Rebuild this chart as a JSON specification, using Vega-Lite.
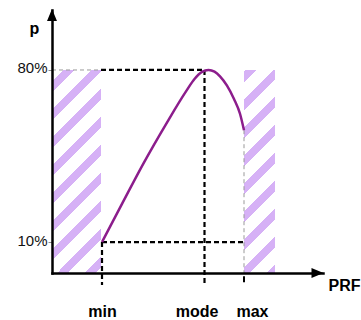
{
  "$schema": "https://vega.github.io/schema/vega-lite/v6.json",
  "width": 271,
  "height": 263,
  "autosize": {"type": "none"},
  "padding": {"left": 52, "top": 10, "right": 38, "bottom": 47},
  "background": "white",
  "config": {"view": {"stroke": null}, "font": "Liberation Sans"},
  "datasets": {
    "regions": [
      {"side": "left", "x": 0, "x2": 0.98, "p": -2.6, "p2": 80},
      {"side": "right", "x": 3.84, "x2": 4.46, "p": -2.6, "p2": 80}
    ],
    "guides": [
      {"kind": "thin", "x": 0, "x2": 0.98, "p": 80, "p2": 80},
      {"kind": "thin", "x": 3.84, "x2": 3.84, "p": 55.5, "p2": -2.6},
      {"kind": "dashed", "x": 0.98, "x2": 3.05, "p": 80, "p2": 80},
      {"kind": "dashed", "x": 3.05, "x2": 3.05, "p": 80, "p2": -7.5},
      {"kind": "dashed", "x": 1, "x2": 3.84, "p": 10, "p2": 10},
      {"kind": "dashed", "x": 1, "x2": 1, "p": 10, "p2": -7.5},
      {"kind": "tick", "x": 3.84, "x2": 3.84, "p": -3.9, "p2": -6.4}
    ],
    "curve": [
      {"x": 1.0, "p": 10},
      {"x": 1.4, "p": 25.5},
      {"x": 1.83, "p": 42.0},
      {"x": 2.29, "p": 58.3},
      {"x": 2.69, "p": 71.6},
      {"x": 2.85, "p": 76.3},
      {"x": 3.0, "p": 79.2},
      {"x": 3.13, "p": 80},
      {"x": 3.25, "p": 79.3},
      {"x": 3.36, "p": 77.4},
      {"x": 3.5, "p": 73.6},
      {"x": 3.64, "p": 68.2},
      {"x": 3.76, "p": 62.2},
      {"x": 3.84, "p": 55.5}
    ],
    "arrows": [
      {"axis": "y", "x": 0, "p": 102.4},
      {"axis": "x", "x": 5.31, "p": -2.6}
    ]
  },
  "encoding": {
    "x": {
      "field": "x",
      "type": "quantitative",
      "scale": {"domain": [0, 5.42], "nice": false, "zero": false},
      "axis": {
        "values": [1, 3.05, 3.84],
        "labelExpr": "datum.value < 2 ? 'min' : (datum.value < 3.5 ? 'mode' : 'max')",
        "grid": false,
        "ticks": false,
        "tickSize": 0,
        "domainColor": "black",
        "domainWidth": 2.5,
        "domainCap": "square",
        "labelFont": "Liberation Sans",
        "labelFontSize": 16,
        "labelFontWeight": "bold",
        "labelColor": "black",
        "labelBaseline": "alphabetic",
        "labelPadding": 43,
        "labelFlush": false,
        "labelOverlap": false,
        "labelOffset": {"condition": [{"test": "datum.value > 3 && datum.value < 3.5", "value": -8}, {"test": "datum.value >= 3.5", "value": 8}], "value": 0},
        "title": "PRF",
        "titleFont": "Liberation Sans",
        "titleFontSize": 16,
        "titleFontWeight": "bold",
        "titleColor": "black",
        "titleX": 276,
        "titleY": 17,
        "titleAlign": "left",
        "titleBaseline": "alphabetic",
        "titleAnchor": "start",
        "zindex": 1
      }
    },
    "y": {
      "field": "p",
      "type": "quantitative",
      "scale": {"domain": [-2.6, 104.4], "nice": false, "zero": false},
      "axis": {
        "values": [10, 80],
        "labelExpr": "datum.value + '%'",
        "grid": false,
        "tickSize": 4,
        "tickColor": "#888888",
        "tickWidth": 1,
        "domainColor": "black",
        "domainWidth": 2.5,
        "domainCap": "square",
        "labelFont": "Liberation Sans",
        "labelFontSize": 15,
        "labelColor": "#111111",
        "labelPadding": 1,
        "labelOffset": -2,
        "title": "p",
        "titleAngle": 0,
        "titleX": -23,
        "titleY": 23,
        "titleAlign": "left",
        "titleBaseline": "alphabetic",
        "titleFont": "Liberation Sans",
        "titleFontSize": 16,
        "titleFontWeight": "bold",
        "titleColor": "black",
        "zindex": 1
      }
    }
  },
  "layer": [
    {
      "data": {"name": "regions"},
      "transform": [{"filter": "datum.side == 'left'"}],
      "mark": {
        "type": "rect",
        "strokeWidth": 0,
        "fill": {
          "gradient": "linear", "x1": 0, "y1": 0, "x2": 0.28315, "y2": 1.17303,
          "stops": [
            {"offset": 0, "color": "#ffffff"},
            {"offset": 0.04762, "color": "#ffffff"}, {"offset": 0.04762, "color": "#d6b1f6"},
            {"offset": 0.09127, "color": "#d6b1f6"}, {"offset": 0.09127, "color": "#ffffff"},
            {"offset": 0.15873, "color": "#ffffff"}, {"offset": 0.15873, "color": "#d6b1f6"},
            {"offset": 0.20238, "color": "#d6b1f6"}, {"offset": 0.20238, "color": "#ffffff"},
            {"offset": 0.26984, "color": "#ffffff"}, {"offset": 0.26984, "color": "#d6b1f6"},
            {"offset": 0.31349, "color": "#d6b1f6"}, {"offset": 0.31349, "color": "#ffffff"},
            {"offset": 0.38095, "color": "#ffffff"}, {"offset": 0.38095, "color": "#d6b1f6"},
            {"offset": 0.42460, "color": "#d6b1f6"}, {"offset": 0.42460, "color": "#ffffff"},
            {"offset": 0.49206, "color": "#ffffff"}, {"offset": 0.49206, "color": "#d6b1f6"},
            {"offset": 0.53571, "color": "#d6b1f6"}, {"offset": 0.53571, "color": "#ffffff"},
            {"offset": 0.60317, "color": "#ffffff"}, {"offset": 0.60317, "color": "#d6b1f6"},
            {"offset": 0.64683, "color": "#d6b1f6"}, {"offset": 0.64683, "color": "#ffffff"},
            {"offset": 0.71429, "color": "#ffffff"}, {"offset": 0.71429, "color": "#d6b1f6"},
            {"offset": 0.75794, "color": "#d6b1f6"}, {"offset": 0.75794, "color": "#ffffff"},
            {"offset": 0.82540, "color": "#ffffff"}, {"offset": 0.82540, "color": "#d6b1f6"},
            {"offset": 0.86905, "color": "#d6b1f6"}, {"offset": 0.86905, "color": "#ffffff"},
            {"offset": 0.93651, "color": "#ffffff"}, {"offset": 0.93651, "color": "#d6b1f6"},
            {"offset": 0.98016, "color": "#d6b1f6"}, {"offset": 0.98016, "color": "#ffffff"},
            {"offset": 1, "color": "#ffffff"}
          ]
        }
      },
      "encoding": {
        "x2": {"field": "x2"},
        "y2": {"field": "p2"}
      }
    },
    {
      "data": {"name": "regions"},
      "transform": [{"filter": "datum.side == 'right'"}],
      "mark": {
        "type": "rect",
        "strokeWidth": 0,
        "fill": {
          "gradient": "linear", "x1": 0, "y1": 0, "x2": 0.17202, "y2": 1.12644,
          "stops": [
            {"offset": 0, "color": "#ffffff"},
            {"offset": 0.00556, "color": "#ffffff"}, {"offset": 0.00556, "color": "#d6b1f6"},
            {"offset": 0.05256, "color": "#d6b1f6"}, {"offset": 0.05256, "color": "#ffffff"},
            {"offset": 0.12521, "color": "#ffffff"}, {"offset": 0.12521, "color": "#d6b1f6"},
            {"offset": 0.17222, "color": "#d6b1f6"}, {"offset": 0.17222, "color": "#ffffff"},
            {"offset": 0.24487, "color": "#ffffff"}, {"offset": 0.24487, "color": "#d6b1f6"},
            {"offset": 0.29188, "color": "#d6b1f6"}, {"offset": 0.29188, "color": "#ffffff"},
            {"offset": 0.36453, "color": "#ffffff"}, {"offset": 0.36453, "color": "#d6b1f6"},
            {"offset": 0.41154, "color": "#d6b1f6"}, {"offset": 0.41154, "color": "#ffffff"},
            {"offset": 0.48419, "color": "#ffffff"}, {"offset": 0.48419, "color": "#d6b1f6"},
            {"offset": 0.53120, "color": "#d6b1f6"}, {"offset": 0.53120, "color": "#ffffff"},
            {"offset": 0.60385, "color": "#ffffff"}, {"offset": 0.60385, "color": "#d6b1f6"},
            {"offset": 0.65085, "color": "#d6b1f6"}, {"offset": 0.65085, "color": "#ffffff"},
            {"offset": 0.72350, "color": "#ffffff"}, {"offset": 0.72350, "color": "#d6b1f6"},
            {"offset": 0.77051, "color": "#d6b1f6"}, {"offset": 0.77051, "color": "#ffffff"},
            {"offset": 0.84316, "color": "#ffffff"}, {"offset": 0.84316, "color": "#d6b1f6"},
            {"offset": 0.89017, "color": "#d6b1f6"}, {"offset": 0.89017, "color": "#ffffff"},
            {"offset": 0.96282, "color": "#ffffff"}, {"offset": 0.96282, "color": "#d6b1f6"},
            {"offset": 1, "color": "#d6b1f6"}
          ]
        }
      },
      "encoding": {
        "x2": {"field": "x2"},
        "y2": {"field": "p2"}
      }
    },
    {
      "data": {"name": "guides"},
      "transform": [{"filter": "datum.kind == 'thin'"}],
      "mark": {"type": "rule", "color": "#999999", "strokeWidth": 1, "strokeDash": [4, 3]},
      "encoding": {
        "x2": {"field": "x2"},
        "y2": {"field": "p2"}
      }
    },
    {
      "data": {"name": "guides"},
      "transform": [{"filter": "datum.kind == 'dashed'"}],
      "mark": {"type": "rule", "color": "black", "strokeWidth": 2.2, "strokeDash": [5, 3]},
      "encoding": {
        "x2": {"field": "x2"},
        "y2": {"field": "p2"}
      }
    },
    {
      "data": {"name": "guides"},
      "transform": [{"filter": "datum.kind == 'tick'"}],
      "mark": {"type": "rule", "color": "black", "strokeWidth": 2},
      "encoding": {
        "x2": {"field": "x2"},
        "y2": {"field": "p2"}
      }
    },
    {
      "data": {"name": "curve"},
      "mark": {"type": "line", "color": "#8c1d8c", "strokeWidth": 2.5, "interpolate": "monotone"}
    },
    {
      "data": {"name": "arrows"},
      "transform": [{"filter": "datum.axis == 'y'"}],
      "mark": {"type": "point", "shape": "M-0.83,1L0,-1L0.83,1Z", "size": 144, "filled": true, "color": "black", "opacity": 1, "strokeWidth": 0}
    },
    {
      "data": {"name": "arrows"},
      "transform": [{"filter": "datum.axis == 'x'"}],
      "mark": {"type": "point", "shape": "M-1,-0.83L1,0L-1,0.83Z", "size": 144, "filled": true, "color": "black", "opacity": 1, "strokeWidth": 0}
    }
  ]
}
